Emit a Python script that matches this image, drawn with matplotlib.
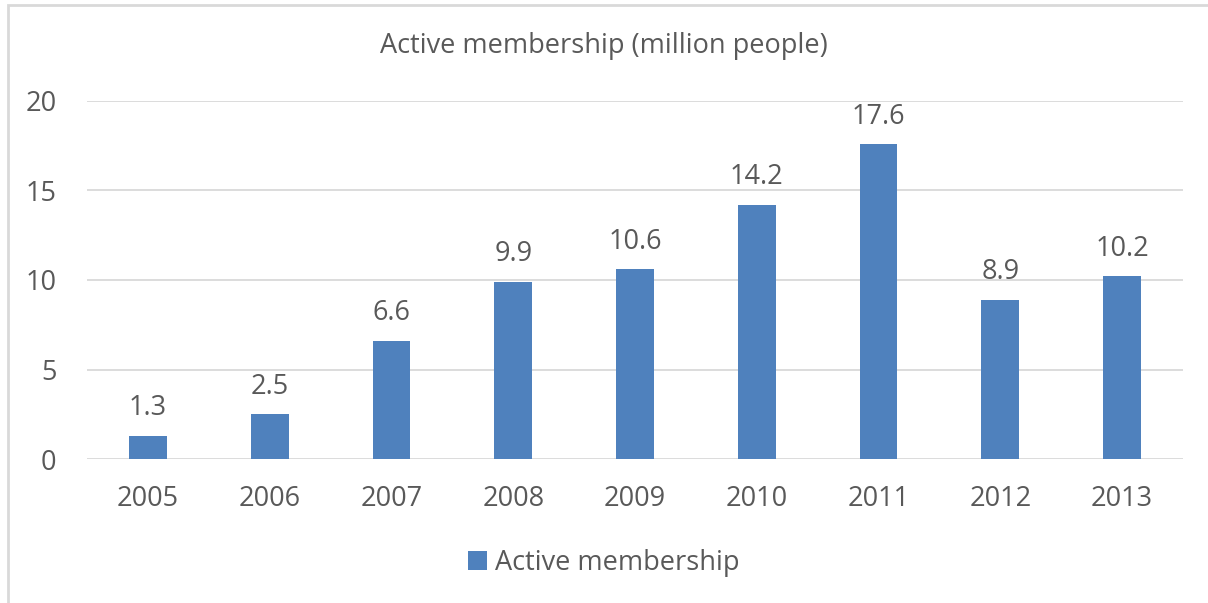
"""Bar chart of active membership per year."""

import matplotlib.pyplot as plt
from matplotlib.patches import Rectangle

years = ["2005", "2006", "2007", "2008", "2009", "2010", "2011", "2012", "2013"]
membership = [1.3, 2.5, 6.6, 9.9, 10.6, 14.2, 17.6, 8.9, 10.2]
y_ticks = [0, 5, 10, 15, 20]

W, H = 1208, 603
text_color = "#595959"
bar_color = "#4f81bd"
grid_color = "#d9d9d9"
fsize = 19.5

plt.rcParams["font.family"] = ["Open Sans", "DejaVu Sans"]

fig = plt.figure(figsize=(W / 100, H / 100), dpi=100)

# outer chart frame (cut off on the right and bottom)
fig.patches.append(
    Rectangle((8 / W, -0.05), 1.2, 1 - 5 / H + 0.05, transform=fig.transFigure,
              fill=False, edgecolor=grid_color, linewidth=2)
)

ax = fig.add_axes([87 / W, 1 - 459 / H, (1183 - 87) / W, (459 - 101) / H])

x = range(len(years))
bars = ax.bar(x, membership, width=0.31, color=bar_color, zorder=3,
              label="Active membership")
for rect, v in zip(bars, membership):
    ax.text(rect.get_x() + rect.get_width() / 2, v + 0.75, f"{v}",
            ha="center", va="bottom", fontsize=fsize, color=text_color)

ax.set_xlim(-0.5, len(years) - 0.5)
ax.set_ylim(0, 20)
ax.set_yticks(y_ticks)
ax.set_xticks(list(x))
ax.set_xticklabels(years)
ax.tick_params(axis="both", length=0, labelsize=fsize, labelcolor=text_color)
ax.tick_params(axis="x", pad=19)
ax.tick_params(axis="y", pad=22)
ax.grid(axis="y", color=grid_color, linewidth=1.3, zorder=0)
for s in ax.spines.values():
    s.set_visible(False)

fig.text(0.5, 1 - 46 / H, "Active membership (million people)", ha="center",
         va="center", fontsize=fsize, color=text_color)

fig.legend(handles=[bars], labels=["Active membership"], loc="center",
           bbox_to_anchor=(0.5, 1 - 563 / H), frameon=False, fontsize=fsize,
           labelcolor=text_color, handlelength=0.7, handleheight=0.7,
           handletextpad=0.3)

fig.savefig("out.png", dpi=100)
